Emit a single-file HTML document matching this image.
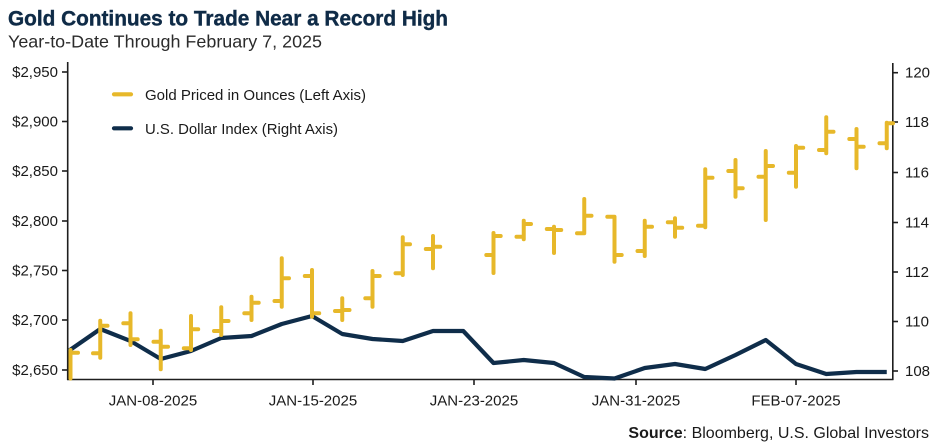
<!DOCTYPE html>
<html><head><meta charset="utf-8"><style>
html,body{margin:0;padding:0;background:#fff;}
svg{display:block;}
text{font-family:"Liberation Sans",sans-serif;}
</style></head><body>
<svg width="936" height="446" viewBox="0 0 936 446" xmlns="http://www.w3.org/2000/svg">
<rect width="936" height="446" fill="#fff"/>
<text x="8" y="25.5" font-size="21" font-weight="bold" fill="#0f2b47" textLength="440" lengthAdjust="spacingAndGlyphs" stroke="#0f2b47" stroke-width="0.4">Gold Continues to Trade Near a Record High</text>
<text x="8" y="47.5" font-size="17.5" fill="#2b2b2b" textLength="314" lengthAdjust="spacingAndGlyphs">Year-to-Date Through February 7, 2025</text>

<!-- axes -->
<g stroke="#1e1e1e" stroke-width="1.6" fill="none">
<line x1="67.7" y1="62" x2="67.7" y2="380"/>
<line x1="892.8" y1="63" x2="892.8" y2="380"/>
<line x1="67" y1="379.5" x2="893.5" y2="379.5"/>
<line x1="62" y1="72" x2="68" y2="72"/>
<line x1="62" y1="121.5" x2="68" y2="121.5"/>
<line x1="62" y1="171" x2="68" y2="171"/>
<line x1="62" y1="221" x2="68" y2="221"/>
<line x1="62" y1="270.5" x2="68" y2="270.5"/>
<line x1="62" y1="320" x2="68" y2="320"/>
<line x1="62" y1="370" x2="68" y2="370"/>
<line x1="892" y1="72.7" x2="898" y2="72.7"/>
<line x1="892" y1="122" x2="898" y2="122"/>
<line x1="892" y1="172.5" x2="898" y2="172.5"/>
<line x1="892" y1="222.5" x2="898" y2="222.5"/>
<line x1="892" y1="272" x2="898" y2="272"/>
<line x1="892" y1="321.5" x2="898" y2="321.5"/>
<line x1="892" y1="371" x2="898" y2="371"/>
<line x1="153" y1="380" x2="153" y2="385"/>
<line x1="313" y1="380" x2="313" y2="385"/>
<line x1="474" y1="380" x2="474" y2="385"/>
<line x1="636" y1="380" x2="636" y2="385"/>
<line x1="796" y1="380" x2="796" y2="385"/>
</g>

<g font-size="15" fill="#1a1a1a" text-anchor="end">
<text x="58" y="77">$2,950</text>
<text x="58" y="126.5">$2,900</text>
<text x="58" y="176">$2,850</text>
<text x="58" y="226">$2,800</text>
<text x="58" y="275.5">$2,750</text>
<text x="58" y="325">$2,700</text>
<text x="58" y="375">$2,650</text>
</g>
<g font-size="15" fill="#1a1a1a">
<text x="905" y="77.7">120</text>
<text x="905" y="127">118</text>
<text x="905" y="177.5">116</text>
<text x="905" y="227.5">114</text>
<text x="905" y="277">112</text>
<text x="905" y="326.5">110</text>
<text x="905" y="376">108</text>
</g>
<g font-size="15" fill="#1a1a1a" text-anchor="middle">
<text x="153" y="405.5">JAN-08-2025</text>
<text x="313" y="405.5">JAN-15-2025</text>
<text x="474" y="405.5">JAN-23-2025</text>
<text x="636" y="405.5">JAN-31-2025</text>
<text x="796" y="405.5">FEB-07-2025</text>
</g>
<text x="929" y="438" font-size="16" fill="#1a1a1a" text-anchor="end"><tspan font-weight="bold">Source</tspan>: Bloomberg, U.S. Global Investors</text>

<!-- legend -->
<line x1="114" y1="94.3" x2="131" y2="94.3" stroke="#e7b82a" stroke-width="4.2" stroke-linecap="round"/>
<text x="145" y="100" font-size="15" fill="#1a1a1a" textLength="221" lengthAdjust="spacingAndGlyphs">Gold Priced in Ounces (Left Axis)</text>
<line x1="114" y1="128.3" x2="131" y2="128.3" stroke="#0f2d4a" stroke-width="4.2" stroke-linecap="round"/>
<text x="145" y="134" font-size="15" fill="#1a1a1a" textLength="193" lengthAdjust="spacingAndGlyphs">U.S. Dollar Index (Right Axis)</text>

<!-- dollar line -->
<polyline fill="none" stroke="#0f2d4a" stroke-width="4.2" stroke-linejoin="round" points="68.5,351 100.25,329 130.5,341 160.75,359 191,351 221.25,338 251.5,336 281.75,324 312,316 342.25,334 372.5,339 402.75,341 433,331 463.25,331 493.5,363 523.75,360 554,363 584.25,377 614.5,378.5 644.75,368 675,364 705.25,369 735.5,355 765.75,340 796,364 826.25,374 856.5,372 886.75,372"/>

<!-- gold OHLC -->
<g stroke="#e7b82a" stroke-width="4" stroke-linecap="round" fill="none">
<path d="M70.5 350V378.5 M70.5 352.7H78"/>
<path d="M100.25 320.7V357.7 M93 353.3H100.25 M100.25 325.7H107.5"/>
<path d="M130.5 313.3V345 M123.3 323.3H130.5 M130.5 339.3H137.7"/>
<path d="M160.75 330.7V369.3 M153.5 341.7H160.75 M160.75 346.7H168"/>
<path d="M191 316V350 M183.8 348.3H191 M191 329.3H198.2"/>
<path d="M221.25 307.3V335 M214 331H221.25 M221.25 321H228.5"/>
<path d="M251.5 296.7V320 M244.3 313.3H251.5 M251.5 302.7H258.7"/>
<path d="M281.75 258.3V306.7 M274.5 301H281.75 M281.75 278.3H289"/>
<path d="M312 270V316.7 M304.8 276H312 M312 313.3H319.2"/>
<path d="M342.25 298.3V320 M335 311H342.25 M342.25 310H349.5"/>
<path d="M372.5 271V306.7 M365.3 298.3H372.5 M372.5 276H379.7"/>
<path d="M402.75 237.3V275 M395.5 273.3H402.75 M402.75 244.3H410"/>
<path d="M433 236V268.3 M425.8 249H433 M433 246.7H440.2"/>
<path d="M493.5 233V273 M486.3 255H493.5 M493.5 236H500.7"/>
<path d="M523.75 220.7V239.3 M516.5 236.7H523.75 M523.75 224H531"/>
<path d="M554 226.7V253 M546.8 229H554 M554 230H561.2"/>
<path d="M584.25 199V233.3 M577 233.3H584.25 M584.25 215.7H591.5"/>
<path d="M614.5 216.7V261.7 M607.3 216.7H614.5 M614.5 255H621.7"/>
<path d="M644.75 220.7V256 M637.5 251H644.75 M644.75 226.7H652"/>
<path d="M675 218.3V236.7 M667.8 222.3H675 M675 227.7H682.2"/>
<path d="M705.25 169.3V227.3 M698 225.7H705.25 M705.25 177.7H712.5"/>
<path d="M735.5 160V196.7 M728.3 171H735.5 M735.5 188.3H742.7"/>
<path d="M765.75 151V220 M758.5 176.7H765.75 M765.75 166H773"/>
<path d="M796 146V186.7 M788.8 172.7H796 M796 147.7H803.2"/>
<path d="M826.25 117.3V153.3 M819 150H826.25 M826.25 131.7H833.5"/>
<path d="M856.5 129V168.3 M849.3 139H856.5 M856.5 146.7H863.7"/>
<path d="M886.75 122.7V148.3 M879.5 143.3H886.75 M886.75 123.3H893"/>
</g>
</svg>
</body></html>
